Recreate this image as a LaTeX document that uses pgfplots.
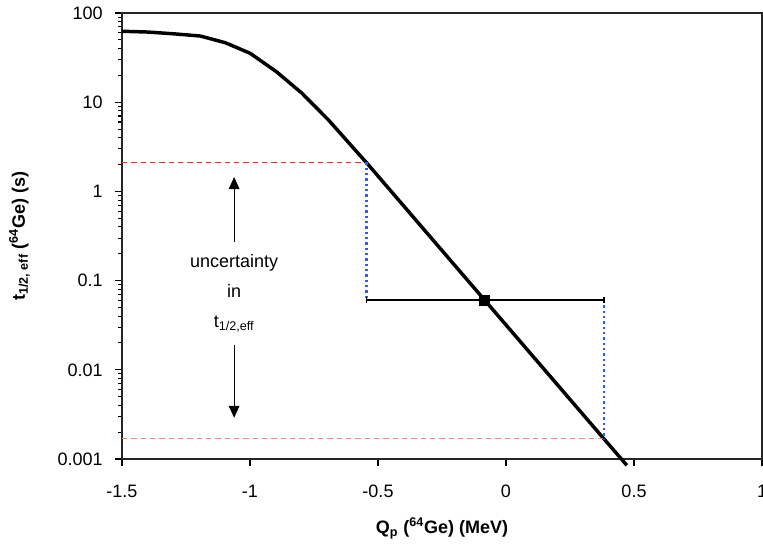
\documentclass[border=0pt]{standalone}
\usepackage{fontspec}
\setmainfont{Liberation Sans}
\usepackage{pgfplots}
\pgfplotsset{compat=1.18}
\usetikzlibrary{arrows.meta}

\definecolor{refred}{RGB}{255,40,40}
\definecolor{refblue}{RGB}{40,90,255}

\begin{document}
\begin{tikzpicture}[x=0.75pt,y=0.75pt]
\begin{axis}[
  at={(0,0)}, anchor=south west,
  scale only axis,
  width=480pt, height=334.5pt,
  ymode=log,
  xmin=-1.5, xmax=1,
  ymin=0.001, ymax=100,
  xtick={-1.5,-1,-0.5,0,0.5,1},
  ytick={0.001,0.01,0.1,1,10,100},
  yticklabels={0.001,0.01,0.1,1,10,100},
  xticklabels={-1.5,-1,-0.5,0,0.5,1},
  tick pos=left,
  tick align=outside,
  major tick length=5pt,
  minor tick length=3pt,
  every tick/.style={black, line width=0.8pt},
  axis line style={line width=1.1pt, black!85},
  tick label style={font=\fontsize{13.5}{16}\selectfont},
  xticklabel style={yshift=-11pt},
  yticklabel style={xshift=-6pt},
  xlabel={\textbf{Q\textsubscript{p} (\textsuperscript{64}Ge) (MeV)}},
  ylabel={\textbf{t\textsubscript{1/2, eff} (\textsuperscript{64}Ge) (s)}},
  label style={font=\fontsize{13.5}{16}\selectfont},
  xlabel style={yshift=-8pt},
  ylabel style={yshift=14pt},
  clip=false,
]
% curve
\addplot[black, line width=2.6pt] coordinates {
  (-1.5,62.4) (-1.4,61.2) (-1.3,58.5) (-1.194,55.2) (-1.096,46.4)
  (-0.999,35.3) (-0.897,22) (-0.797,12.6) (-0.693,6.3) (-0.595,3.04)
  (-0.543,2.07) (-0.084,0.0607) (0.382,0.00169) (0.472,0.00085)
};
% red dashed levels
\addplot[refred, line width=0.7pt, dash pattern=on 4pt off 3pt] coordinates {(-1.5,2.12) (-0.545,2.12)};
\addplot[refred!60, line width=1pt, dash pattern=on 4pt off 3pt] coordinates {(-1.5,0.00169) (0.382,0.00169)};
% blue dotted verticals
\addplot[refblue, line width=1.8pt, dash pattern=on 1.8pt off 2.2pt] coordinates {(-0.545,2.12) (-0.545,0.0607)};
\addplot[refblue, line width=1.8pt, dash pattern=on 1.8pt off 2.2pt] coordinates {(0.382,0.0607) (0.382,0.00169)};
% error bar
\addplot[black, line width=1.4pt] coordinates {(-0.545,0.0607) (0.382,0.0607)};
\addplot[black, line width=1.4pt] coordinates {(-0.545,0.0565) (-0.545,0.0652)};
\addplot[black, line width=1.4pt] coordinates {(0.382,0.0565) (0.382,0.0652)};
\addplot[only marks, mark=square*, mark size=3.8pt, black] coordinates {(-0.084,0.0607)};
% arrows
\addplot[black, line width=0.7pt, -{Triangle[length=9pt,width=8pt]}] coordinates {(-1.062,0.271) (-1.062,1.45)};
\addplot[black, line width=0.7pt, -{Triangle[length=9pt,width=8pt]}] coordinates {(-1.062,0.019) (-1.062,0.0029)};
\node[align=center, font=\fontsize{13.5}{22.5}\selectfont] at (axis cs:-1.062,0.072)
  {uncertainty\\in\\t\textsubscript{1/2,eff}};
\end{axis}
\pgfresetboundingbox
\path[use as bounding box] (-122,-92) rectangle (641,459);
\end{tikzpicture}
\end{document}
